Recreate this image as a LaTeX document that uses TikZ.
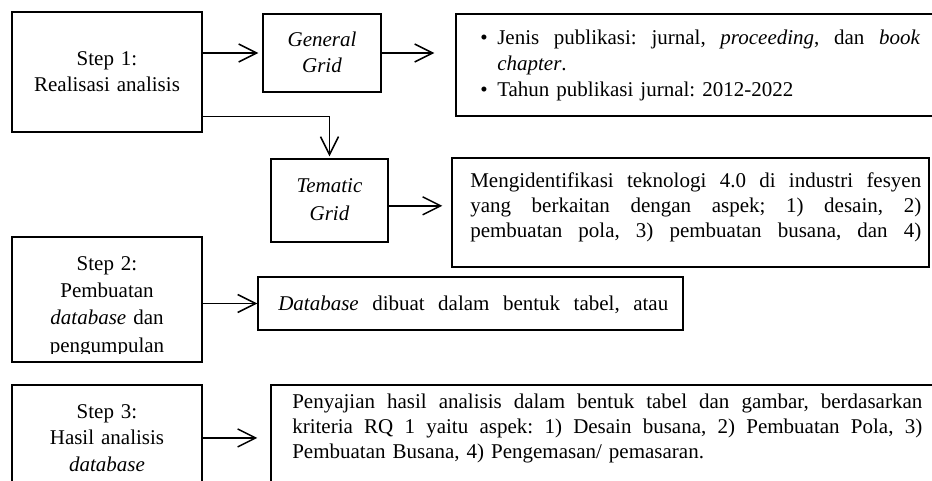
\documentclass[tikz,border=0pt]{standalone}
\usepackage{fontspec}
\setmainfont{Liberation Serif}
\usetikzlibrary{fit,arrows.meta}
\newcommand\jl[2]{\hbox to #1{\spaceskip=\fontdimen2\font plus 1fil\relax #2}\par}
\newcommand\nl[1]{\hbox{#1}\par}
\begin{document}
\frenchspacing
\begin{tikzpicture}[x=0.75pt,y=-0.75pt,
  box/.style={draw, line width=1.1pt, inner sep=0pt},
  arr/.style={line width=1.1pt, -{Straight Barb[length=13.5pt,width=13.5pt]}},
  txt/.style={inner sep=0pt, font=\fontsize{15.75}{19.5}\selectfont},
  ctxt/.style={txt, text width=140pt, align=center, anchor=base},
  ]
\useasboundingbox[fill=white] (0,0) rectangle (932,481);
% boxes
\node[box, fit={(12,12) (202,132)}] (s1) {};
\node[box, fit={(263,14) (381,92)}] (gg) {};
\node[box, fit={(456,14) (945,116)}] (bul) {};
\node[box, fit={(271,159) (388,242)}] (tg) {};
\node[box, fit={(452,158) (929,267)}] (tt) {};
\node[box, fit={(12,237) (202,362)}] (s2) {};
\node[box, fit={(258,277) (683,330)}] (db) {};
\node[box, fit={(12,385) (202,520)}] (s3) {};
\node[box, fit={(271,385) (945,520)}] (st) {};
% texts
\node[ctxt] (s1t) at (107,66) {Step 1:\\Realisasi analisis};
\node[ctxt, font=\fontsize{15.75}{19.5}\selectfont\itshape] (ggt) at (322,47) {General\\Grid};
\node[ctxt, font=\fontsize{15.75}{21}\selectfont\itshape] (tgt) at (329.5,193) {Tematic\\Grid};
\node[txt, text width=330pt, anchor=base west] (bult) at (480,45) {%
  \jl{330pt}{\hbox to 12.75pt{\textbullet\hss}Jenis publikasi: jurnal, \textit{proceeding}, dan \textit{book}}
  \nl{\hspace*{12.75pt}\textit{chapter}.}
  \nl{\hbox to 12.75pt{\textbullet\hss}Tahun publikasi jurnal: 2012-2022}};
\node[txt, font=\fontsize{15.75}{18.75}\selectfont, text width=338.25pt, anchor=base west] (ttt) at (470,188) {%
  \jl{338.25pt}{Mengidentifikasi teknologi 4.0 di industri fesyen}
  \jl{338.25pt}{yang berkaitan dengan aspek; 1) desain, 2)}
  \jl{338.25pt}{pembuatan pola, 3) pembuatan busana, dan 4)}};
\begin{scope}
  \clip (s2.north west) rectangle ([yshift=7pt]s2.south east);
  \node[ctxt, font=\fontsize{15.75}{20.6}\selectfont] (s2t) at (107,270) {Step 2:\\Pembuatan\\\textit{database} dan\\pengumpulan};
\end{scope}
\node[txt, text width=292.5pt, anchor=base west] (dbt) at (278,310) {\jl{292.5pt}{\textit{Database} dibuat dalam bentuk tabel, atau}};
\node[ctxt, font=\fontsize{15.75}{19.9}\selectfont] (s3t) at (107,418) {Step 3:\\Hasil analisis\\\textit{database}};
\node[txt, font=\fontsize{15.75}{18.75}\selectfont, text width=472.5pt, anchor=base west] (stt) at (292,408) {%
  \jl{472.5pt}{Penyajian hasil analisis dalam bentuk tabel dan gambar, berdasarkan}
  \jl{472.5pt}{kriteria RQ 1 yaitu aspek: 1) Desain busana, 2) Pembuatan Pola, 3)}
  \nl{Pembuatan Busana, 4) Pengemasan/ pemasaran.}};
% connectors
\draw[arr, shorten >=3pt] (gg.west -| s1.east) -- (gg.west);
\draw[arr, shorten >=15.75pt] (gg.east) -- (gg.east -| bul.west);
\draw[arr, shorten >=1.5pt] ([yshift=12pt]s1.south east) -| (tg.north);
\draw[arr, shorten >=6.75pt] ([yshift=-4pt]tg.east) -- ([yshift=-4pt]tg.east -| tt.west);
\draw[arr] (db.west -| s2.east) -- (db.west);
\draw[arr, shorten >=9.75pt] ([yshift=10.9pt]s3.east) -- ([yshift=10.9pt]s3.east -| st.west);
\end{tikzpicture}
\end{document}
